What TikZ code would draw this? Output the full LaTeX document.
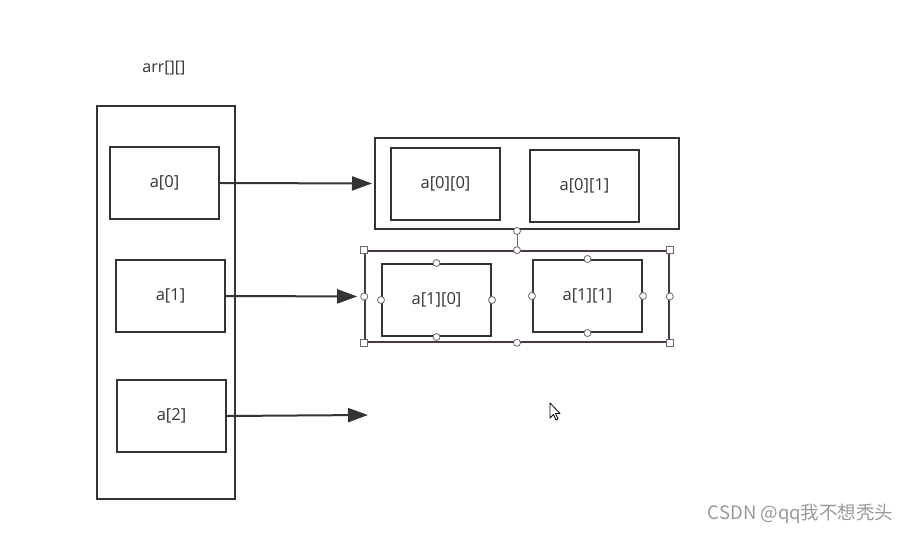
\documentclass[tikz,border=0pt]{standalone}
\usepackage{fontspec}
\setmainfont{Open Sans}
\newfontfamily\cjk{Noto Sans CJK SC}
\usetikzlibrary{arrows.meta}
\definecolor{ink}{HTML}{333333}
\definecolor{selc}{HTML}{4A3C3C}
\definecolor{hdl}{HTML}{6E6464}
\tikzset{
  cell/.style={draw=ink, line width=2pt, minimum width=109pt, minimum height=72pt, inner sep=0pt, font=\fontsize{16.5}{18}\selectfont, text=ink},
  frame/.style={draw=ink, line width=2pt},
  ptr/.style={draw=ink, line width=2pt, -{Triangle[length=20pt,width=14pt]}},
  hc/.style={circle, draw=hdl, fill=white, line width=0.8pt, minimum size=7pt, inner sep=0pt},
  hs/.style={rectangle, draw=hdl, fill=white, line width=0.8pt, minimum size=7pt, inner sep=0pt},
}
\begin{document}
\begin{tikzpicture}[x=1pt,y=-1pt]
\useasboundingbox (0,0) rectangle (911,534);
% title
\node[font=\fontsize{16}{18}\selectfont, text=ink] (title) at (164,68) {arr[][]};
% left outer frame
\node[frame, minimum width=138pt, minimum height=393pt, inner sep=0pt] (outer) at (166,302.5) {};
\node[cell] (a0) at (164.5,183) {a[0]};
\node[cell] (a1) at (170.5,296) {a[1]};
\node[cell] (a2) at (171.5,416) {a[2]};
% right top row
\node[frame, minimum width=304pt, minimum height=91pt, inner sep=0pt] (row0) at (527,183.5) {};
\node[cell] (a00) at (445.5,184) {a[0][0]};
\node[cell] (a01) at (584.5,186) {a[0][1]};
% selected row
\node[draw=selc, line width=1.6pt, minimum width=304pt, minimum height=91pt, inner sep=0pt] (row1) at (517,296.5) {};
\node[cell] (a10) at (436.5,300) {a[1][0]};
\node[cell] (a11) at (587.5,296) {a[1][1]};
% arrows
\coordinate (e2) at (368,415);
\draw[ptr, shorten >=2pt] (a0.east) -- (row0.west);
\draw[ptr, shorten >=7pt] (a1.east) -- (row1.west);
\draw[ptr] (a2.east) -- (e2);
% selection handles
\node[hc] (rot) at (517,231) {};
\draw[hdl, line width=0.8pt] (rot) -- (row1.north);
\foreach \p in {north west, north east, south west, south east}
  \node[hs] at (row1.\p) {};
\foreach \p in {north, south, east, west}
  \node[hc] at (row1.\p) {};
\foreach \p in {north, south, east, west}
  \node[hc] at (a10.\p) {};
\foreach \p in {north, south, east, west}
  \node[hc] at (a11.\p) {};
% cursor
\draw[black, line width=0.8pt, fill=white, line join=round] (550,403) -- (550,418) -- (553.5,414.5) -- (556,420) -- (558,419) -- (555.5,413.5) -- (560,413.5) -- cycle;
% watermark
\node[font=\fontsize{18.5}{20}\selectfont\cjk, text=black!40, anchor=east] (wm) at (897,514) {CSDN @qq我不想秃头};
\end{tikzpicture}
\end{document}
